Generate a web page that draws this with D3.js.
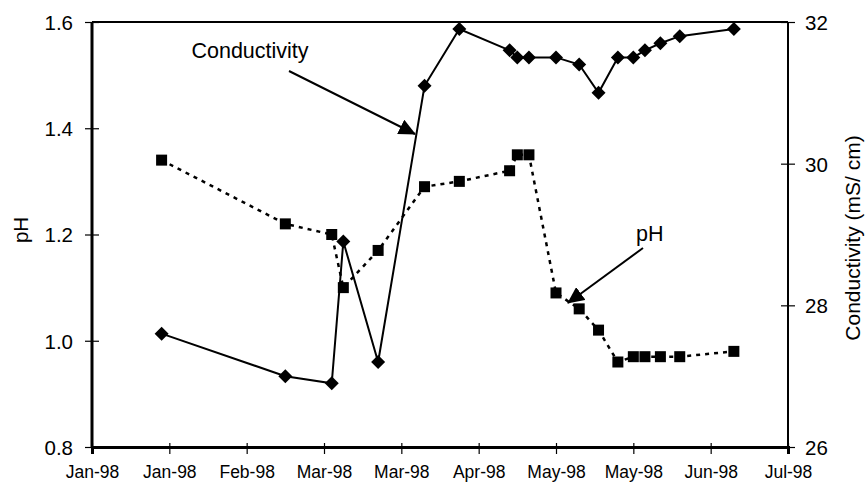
<!DOCTYPE html>
<html>
<head>
<meta charset="utf-8">
<script src="https://cdn.jsdelivr.net/npm/d3@7"></script>
<style>
    body { margin: 0; background: #fff; }
    svg { font-family: "Liberation Sans", Arial, sans-serif; }
    .tick text { fill: #000; }
</style>
</head>
<body>
<div id="chart"></div>
<script>
"use strict";

// sampling dates
var dates = ["1998-01-28", "1998-03-01", "1998-03-13", "1998-03-16", "1998-03-25",
    "1998-04-06", "1998-04-15", "1998-04-28", "1998-04-30", "1998-05-03",
    "1998-05-10", "1998-05-16", "1998-05-21", "1998-05-26", "1998-05-30",
    "1998-06-02", "1998-06-06", "1998-06-11", "1998-06-25"];

// conductivity (mS/cm), right axis
var conductivity = [27.6, 27.0, 26.9, 28.9, 27.2, 31.1, 31.9, 31.6, 31.5, 31.5,
    31.5, 31.4, 31.0, 31.5, 31.5, 31.6, 31.7, 31.8, 31.9];

// pH, left axis
var ph = [1.34, 1.22, 1.20, 1.10, 1.17, 1.29, 1.30, 1.32, 1.35, 1.35,
    1.09, 1.06, 1.02, 0.96, 0.97, 0.97, 0.97, 0.97, 0.98];

// x ticks every 20 days
var xTickDates = ["1998-01-10", "1998-01-30", "1998-02-19", "1998-03-11", "1998-03-31",
    "1998-04-20", "1998-05-10", "1998-05-30", "1998-06-19", "1998-07-09"];
var phTicks = [0.8, 1.0, 1.2, 1.4, 1.6];
var condTicks = [26, 28, 30, 32];

(function () {
    var parse = d3.timeParse("%Y-%m-%d"),
        margin = { top: 22, right: 78, bottom: 36, left: 92 },
        width = 866 - margin.left - margin.right,
        height = 483 - margin.top - margin.bottom,
        svg, g, x, yPh, yCond, rows, defs;

    rows = dates.map(function (d, i) {
        return { date: parse(d), c: conductivity[i], p: ph[i] };
    });

    svg = d3.select("#chart").append("svg")
        .attr("width", 866)
        .attr("height", 483);

    defs = svg.append("defs");
    defs.append("marker")
        .attr("id", "arrow")
        .attr("viewBox", "0 0 17 16")
        .attr("refX", 16)
        .attr("refY", 8)
        .attr("markerWidth", 17)
        .attr("markerHeight", 16)
        .attr("markerUnits", "userSpaceOnUse")
        .attr("orient", "auto")
        .append("path")
        .attr("d", "M0,0 L17,8 L0,16 Z")
        .attr("fill", "#000");

    g = svg.append("g")
        .attr("transform", "translate(" + margin.left + "," + margin.top + ")");

    x = d3.scaleTime()
        .domain([parse(xTickDates[0]), parse(xTickDates[xTickDates.length - 1])])
        .range([0, width]);
    yPh = d3.scaleLinear().domain([0.8, 1.6]).range([height, 0]);
    yCond = d3.scaleLinear().domain([26, 32]).range([height, 0]);

    // frame top
    g.append("line").attr("x1", 0).attr("x2", width).attr("y1", 0).attr("y2", 0)
        .attr("stroke", "#000").attr("stroke-width", 2);

    // axes
    var xAxis = g.append("g")
        .attr("transform", "translate(0," + height + ")")
        .call(d3.axisBottom(x)
            .tickValues(xTickDates.map(parse))
            .tickFormat(d3.timeFormat("%b-%y"))
            .tickSize(7)
            .tickPadding(12));
    xAxis.select(".domain").attr("stroke-width", 3);
    xAxis.selectAll(".tick line").attr("y1", -4).attr("stroke-width", 1.2);
    xAxis.selectAll(".tick text").style("font-size", "17.5px");

    var leftAxis = g.append("g")
        .call(d3.axisLeft(yPh)
            .tickValues(phTicks)
            .tickFormat(d3.format(".1f"))
            .tickSize(7)
            .tickPadding(12));
    leftAxis.select(".domain").attr("stroke-width", 3)
        .attr("d", "M0," + height + "V0");
    leftAxis.selectAll(".tick line").attr("x1", 7).attr("stroke-width", 1.2);
    leftAxis.selectAll(".tick text").style("font-size", "20.5px").attr("dy", "0.36em");

    var rightAxis = g.append("g")
        .attr("transform", "translate(" + width + ",0)")
        .call(d3.axisRight(yCond)
            .tickValues(condTicks)
            .tickFormat(d3.format("d"))
            .tickSize(7)
            .tickPadding(10));
    rightAxis.select(".domain").attr("stroke-width", 2)
        .attr("d", "M0," + height + "V0");
    rightAxis.selectAll(".tick line").attr("x1", -7).attr("stroke-width", 1.2);
    rightAxis.selectAll(".tick text").style("font-size", "20.5px").attr("dy", "0.36em");

    // axis titles
    svg.append("text")
        .attr("transform", "translate(28,230) rotate(-90)")
        .attr("text-anchor", "middle")
        .style("font-size", "20.5px")
        .text("pH");

    svg.append("text")
        .attr("transform", "translate(860,238) rotate(-90)")
        .attr("text-anchor", "middle")
        .style("font-size", "21px")
        .text("Conductivity (mS/ cm)");

    // pH series, dotted with squares
    g.append("path")
        .datum(rows)
        .attr("fill", "none")
        .attr("stroke", "#000")
        .attr("stroke-width", 2.5)
        .attr("stroke-dasharray", "4,5")
        .attr("d", d3.line()
            .x(function (d) { return x(d.date); })
            .y(function (d) { return yPh(d.p); }));

    g.selectAll(".sq")
        .data(rows).enter().append("rect")
        .attr("class", "sq")
        .attr("x", function (d) { return x(d.date) - 5.5; })
        .attr("y", function (d) { return yPh(d.p) - 5.5; })
        .attr("width", 11)
        .attr("height", 11)
        .attr("fill", "#000");

    // conductivity series, solid with diamonds
    g.append("path")
        .datum(rows)
        .attr("fill", "none")
        .attr("stroke", "#000")
        .attr("stroke-width", 2)
        .attr("d", d3.line()
            .x(function (d) { return x(d.date); })
            .y(function (d) { return yCond(d.c); }));

    g.selectAll(".dia")
        .data(rows).enter().append("path")
        .attr("class", "dia")
        .attr("transform", function (d) {
            return "translate(" + x(d.date) + "," + yCond(d.c) + ")";
        })
        .attr("d", "M0,-7 L7,0 L0,7 L-7,0 Z")
        .attr("fill", "#000");

    // annotations
    svg.append("text")
        .attr("x", 250).attr("y", 58)
        .attr("text-anchor", "middle")
        .style("font-size", "21.5px")
        .text("Conductivity");
    svg.append("line")
        .attr("x1", 289).attr("y1", 71).attr("x2", 415).attr("y2", 134)
        .attr("stroke", "#000").attr("stroke-width", 2)
        .attr("marker-end", "url(#arrow)");

    svg.append("text")
        .attr("x", 636).attr("y", 241)
        .style("font-size", "21.5px")
        .text("pH");
    svg.append("line")
        .attr("x1", 643).attr("y1", 248).attr("x2", 568).attr("y2", 303)
        .attr("stroke", "#000").attr("stroke-width", 2)
        .attr("marker-end", "url(#arrow)");
}());
</script>
</body>
</html>
